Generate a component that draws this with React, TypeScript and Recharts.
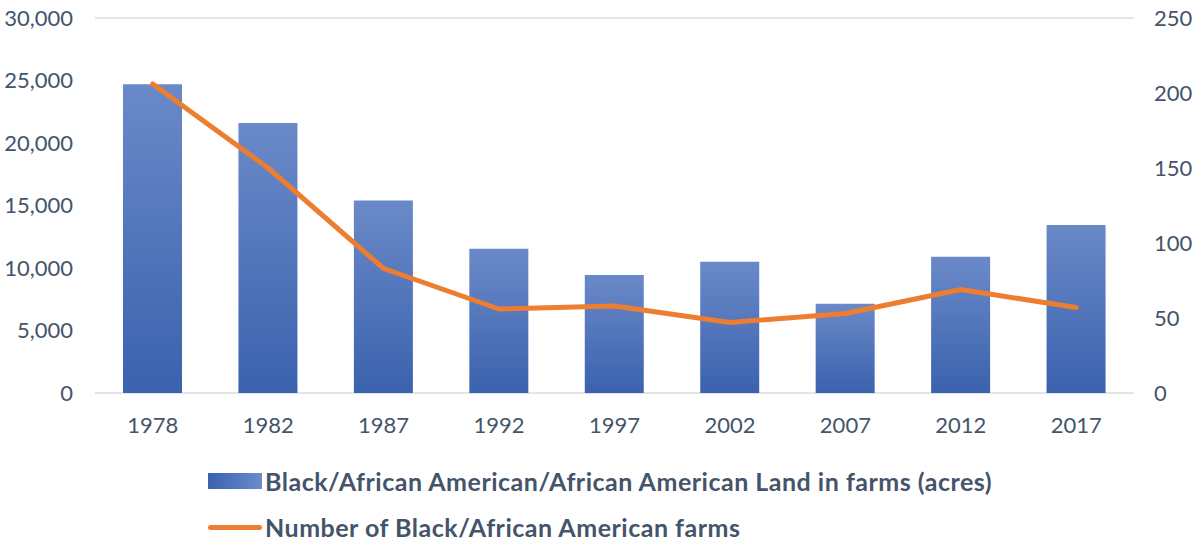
import { ComposedChart, Bar, Line, XAxis, YAxis, CartesianGrid, Legend } from "recharts";

const years = ["1978", "1982", "1987", "1992", "1997", "2002", "2007", "2012", "2017"];
const landAcres = [24700, 21600, 15400, 11550, 9450, 10500, 7150, 10900, 13450];
const farmCount = [206, 150, 83, 56, 58, 47, 53, 69, 57];
const leftTicks = [0, 5000, 10000, 15000, 20000, 25000, 30000];
const rightTicks = [0, 50, 100, 150, 200, 250];

const barName = "Black/African American/African American Land in farms (acres)";
const lineName = "Number of Black/African American farms";

const data = years.map((year, i) => ({ year, land: landAcres[i], farms: farmCount[i] }));

const textColor = "#44546A";
const font = "Lato, 'Open Sans', sans-serif";
const tickStyle = { fontSize: 22, fill: textColor, fontFamily: font };

const fmt = (v: number) => v.toLocaleString("en-US");

const LegendBox = () => (
  <div style={{ paddingLeft: 208, paddingTop: 34, fontFamily: font, color: textColor, fontWeight: 700, fontSize: 25, letterSpacing: 0.5 }}>
    <div style={{ display: "flex", alignItems: "center", height: 28, marginBottom: 18 }}>
      <div style={{ width: 54, height: 16, background: "linear-gradient(to right, #3A62AE, #6B8CCB)", marginRight: 3 }} />
      <span>{barName}</span>
    </div>
    <div style={{ display: "flex", alignItems: "center", height: 28 }}>
      <div style={{ width: 54, height: 5, borderRadius: 3, background: "#ED7D31", marginRight: 3 }} />
      <span>{lineName}</span>
    </div>
  </div>
);

export default function App() {
  return (
    <div style={{ position: "absolute", left: 0, top: 0, background: "#fff" }}>
      <ComposedChart width={1199} height={544} data={data} margin={{ top: 18, right: 0, bottom: 0, left: 0 }}>
        <defs>
          <linearGradient id="barFill" x1="0" y1="0" x2="0" y2="1">
            <stop offset="0%" stopColor="#6A89C8" />
            <stop offset="100%" stopColor="#3B62AE" />
          </linearGradient>
        </defs>
        <CartesianGrid vertical={false} stroke="#E1E5EA" strokeWidth={2} />
        <XAxis
          dataKey="year"
          axisLine={false}
          tickLine={false}
          height={40}
          tick={tickStyle}
          tickMargin={18}
          interval={0}
        />
        <YAxis
          yAxisId="left"
          domain={[0, 30000]}
          ticks={leftTicks}
          tickFormatter={fmt}
          axisLine={false}
          tickLine={false}
          width={95}
          tick={tickStyle}
          tickMargin={16}
        />
        <YAxis
          yAxisId="right"
          orientation="right"
          domain={[0, 250]}
          ticks={rightTicks}
          axisLine={false}
          tickLine={false}
          width={65}
          tick={tickStyle}
          tickMargin={14}
        />
        <Legend verticalAlign="bottom" align="left" height={111} content={() => <LegendBox />} />
        <Bar
          yAxisId="left"
          dataKey="land"
          name={barName}
          fill="url(#barFill)"
          barSize={59}
          isAnimationActive={false}
        />
        <Line
          yAxisId="right"
          dataKey="farms"
          name={lineName}
          type="linear"
          stroke="#ED7D31"
          strokeWidth={5}
          strokeLinecap="round"
          strokeLinejoin="round"
          dot={false}
          isAnimationActive={false}
        />
      </ComposedChart>
    </div>
  );
}
